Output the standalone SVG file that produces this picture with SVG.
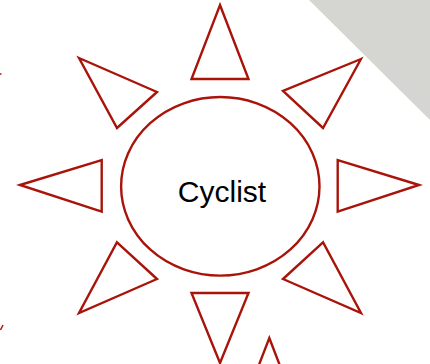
<svg xmlns="http://www.w3.org/2000/svg" width="430" height="364" viewBox="0 0 430 364">
<style>
.r{fill:#fff;stroke:#A8140A;stroke-width:2.4;stroke-linejoin:miter}
.t{font-family:"Liberation Sans",Arial,sans-serif;font-size:30px;fill:#000}
</style>
<rect width="430" height="364" fill="#fff"/>
<g id="corner"><polygon points="309,0 430,0 430,120" fill="#D5D5D2"/></g>
<g id="edge-marks" fill="none" stroke="#B01A0A" stroke-width="1.5">
<line x1="0" y1="74" x2="1.5" y2="74"/>
<line x1="3" y1="325" x2="0.5" y2="330"/>
</g>
<g id="rays">
<g id="ray-top"><polygon class="r" points="220,5 248.5,79 191.5,79"/></g>
<g id="ray-top-right"><polygon class="r" points="361,59 283,91 323,128"/></g>
<g id="ray-right"><polygon class="r" points="419,185 337.7,160 337.7,211.7"/></g>
<g id="ray-bottom-right"><polygon class="r" points="323,242.3 283,279 361,313"/></g>
<g id="ray-bottom"><polygon class="r" points="191.5,293 248.5,293 220,363"/></g>
<g id="ray-bottom-left"><polygon class="r" points="117,242.3 157,279 79,313"/></g>
<g id="ray-left"><polygon class="r" points="20,185 101.7,160 101.7,211.7"/></g>
<g id="ray-top-left"><polygon class="r" points="79,58 157,92 117,128"/></g>
<g id="ray-extra"><polygon class="r" points="269.3,338 297.8,412 240.8,412"/></g>
</g>
<g id="cyclist">
<ellipse class="r" cx="220.3" cy="186.3" rx="99.2" ry="89.3"/>
<text class="t" x="222" y="201.5" text-anchor="middle">Cyclist</text>
</g>
</svg>
